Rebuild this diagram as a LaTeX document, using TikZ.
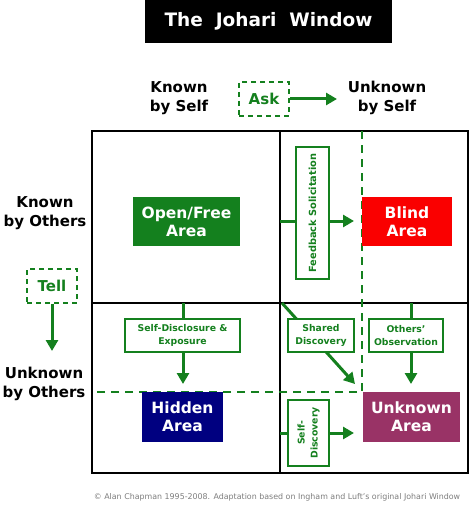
\documentclass[tikz,border=0pt]{standalone}
\usepackage{fontspec}
\setmainfont{DejaVu Sans}
\usetikzlibrary{arrows.meta,positioning}
\definecolor{jgreen}{RGB}{20,128,30}
\definecolor{jred}{RGB}{250,0,0}
\definecolor{jnavy}{RGB}{0,0,128}
\definecolor{jplum}{RGB}{153,51,102}
\definecolor{jgray}{RGB}{125,125,125}

\tikzset{
  gridline/.style={line width=2.8pt, black},
  divide/.style={jgreen, line width=2.4pt, dash pattern=on 8pt off 6pt},
  flow/.style={jgreen, line width=3pt, -{Triangle[length=11pt,width=12pt]}},
  area/.style={font=\fontsize{15.5}{18}\selectfont\bfseries, text=white, align=center, inner sep=0pt},
  stage/.style={draw=jgreen, line width=1.6pt, fill=white, text=jgreen, font=\fontsize{9.3}{13}\selectfont\bfseries, align=center, inner sep=1pt},
  axislabel/.style={font=\fontsize{15}{19}\selectfont\bfseries, align=center},
  action/.style={draw=jgreen, line width=1.6pt, dash pattern=on 5pt off 4pt, text=jgreen, font=\fontsize{15}{16}\selectfont\bfseries, inner sep=0pt}
}

\begin{document}
\begin{tikzpicture}[x=1pt,y=-1pt]
  \useasboundingbox (0,0) rectangle (474,516);

  % Title
  \node (title) at (268.5,21.5) [fill=black, text=white, minimum width=247pt, minimum height=43pt, font=\fontsize{18.5}{20}\selectfont\bfseries] {The~~Johari~~Window};

  % Headings along the top
  \node (knownself) at (179,98) [axislabel] {Known\\by Self};
  \node (unknownself) at (387,98) [axislabel] {Unknown\\by Self};
  \node (ask) at (264,99) [action, minimum width=50pt, minimum height=34pt] {Ask};
  \coordinate (askend) at (337,99);
  \draw[flow] (ask.east) -- (askend);

  % Headings down the left side
  \node (knownothers) at (45,213) [axislabel] {Known\\by Others};
  \node (unknownothers) at (44,384) [axislabel] {Unknown\\by Others};
  \node (tell) at (52,286) [action, minimum width=50pt, minimum height=34pt] {Tell};
  \coordinate (tellend) at (52,351);
  \draw[flow] (tell.south) -- (tellend);

  % The window
  \coordinate (nw) at (92,131);
  \coordinate (se) at (468,473);
  \coordinate (midtop) at (280,131);
  \coordinate (midbot) at (280,473);
  \coordinate (midleft) at (92,303);
  \coordinate (midright) at (468,303);
  \draw[gridline] (nw) rectangle (se);
  \draw[gridline] (midtop) -- (midbot);
  \draw[gridline] (midleft) -- (midright);

  % Moved boundaries
  \coordinate (shift) at (362,392);
  \draw[divide] (362,131) -- (shift) -- (92,392);

  % Flows between the areas
  \coordinate (fbstart) at (280,221);
  \coordinate (fbend) at (354,221);
  \draw[flow] (fbstart) -- (fbend);
  \coordinate (sdstart) at (183,303);
  \coordinate (sdend) at (183,384);
  \draw[flow] (sdstart) -- (sdend);
  \coordinate (shstart) at (282,303);
  \coordinate (shend) at (355,384);
  \draw[flow] (shstart) -- (shend);
  \coordinate (obstart) at (411,303);
  \coordinate (obend) at (411,384);
  \draw[flow] (obstart) -- (obend);
  \coordinate (dsstart) at (280,433);
  \coordinate (dsend) at (354,433);
  \draw[flow] (dsstart) -- (dsend);

  % Stage boxes
  \node (feedback) at (312.5,213) [stage, rotate=90, minimum width=132pt, minimum height=33pt, font=\fontsize{9.8}{11}\selectfont\bfseries] {Feedback Solicitation};
  \node (disclosure) at (182.5,335.5) [stage, minimum width=115pt, minimum height=33pt] {Self-Disclosure \&\\Exposure};
  \node (shared) at (321,335.5) [stage, minimum width=66pt, minimum height=33pt] {Shared\\Discovery};
  \node (observation) at (406,335.5) [stage, minimum width=74pt, minimum height=33pt] {Others'\\Observation};
  \node (discovery) at (308.5,433) [stage, rotate=90, minimum width=66pt, minimum height=41pt] {Self-\\Discovery};

  % The four areas
  \node (open) at (186.5,221.5) [area, fill=jgreen, minimum width=107pt, minimum height=49pt] {Open/Free\\Area};
  \node (blind) at (407,221.5) [area, fill=jred, minimum width=90pt, minimum height=49pt] {Blind\\Area};
  \node (hidden) at (182.5,417) [area, fill=jnavy, minimum width=81pt, minimum height=50pt] {Hidden\\Area};
  \node (unknown) at (411.5,417) [area, fill=jplum, minimum width=97pt, minimum height=50pt] {Unknown\\Area};

  % Credit line
  \node (credit) at (277,497) [text=jgray, font=\fontsize{7.9}{9}\selectfont] {© Alan Chapman 1995-2008. Adaptation based on Ingham and Luft's original Johari Window};
\end{tikzpicture}
\end{document}
